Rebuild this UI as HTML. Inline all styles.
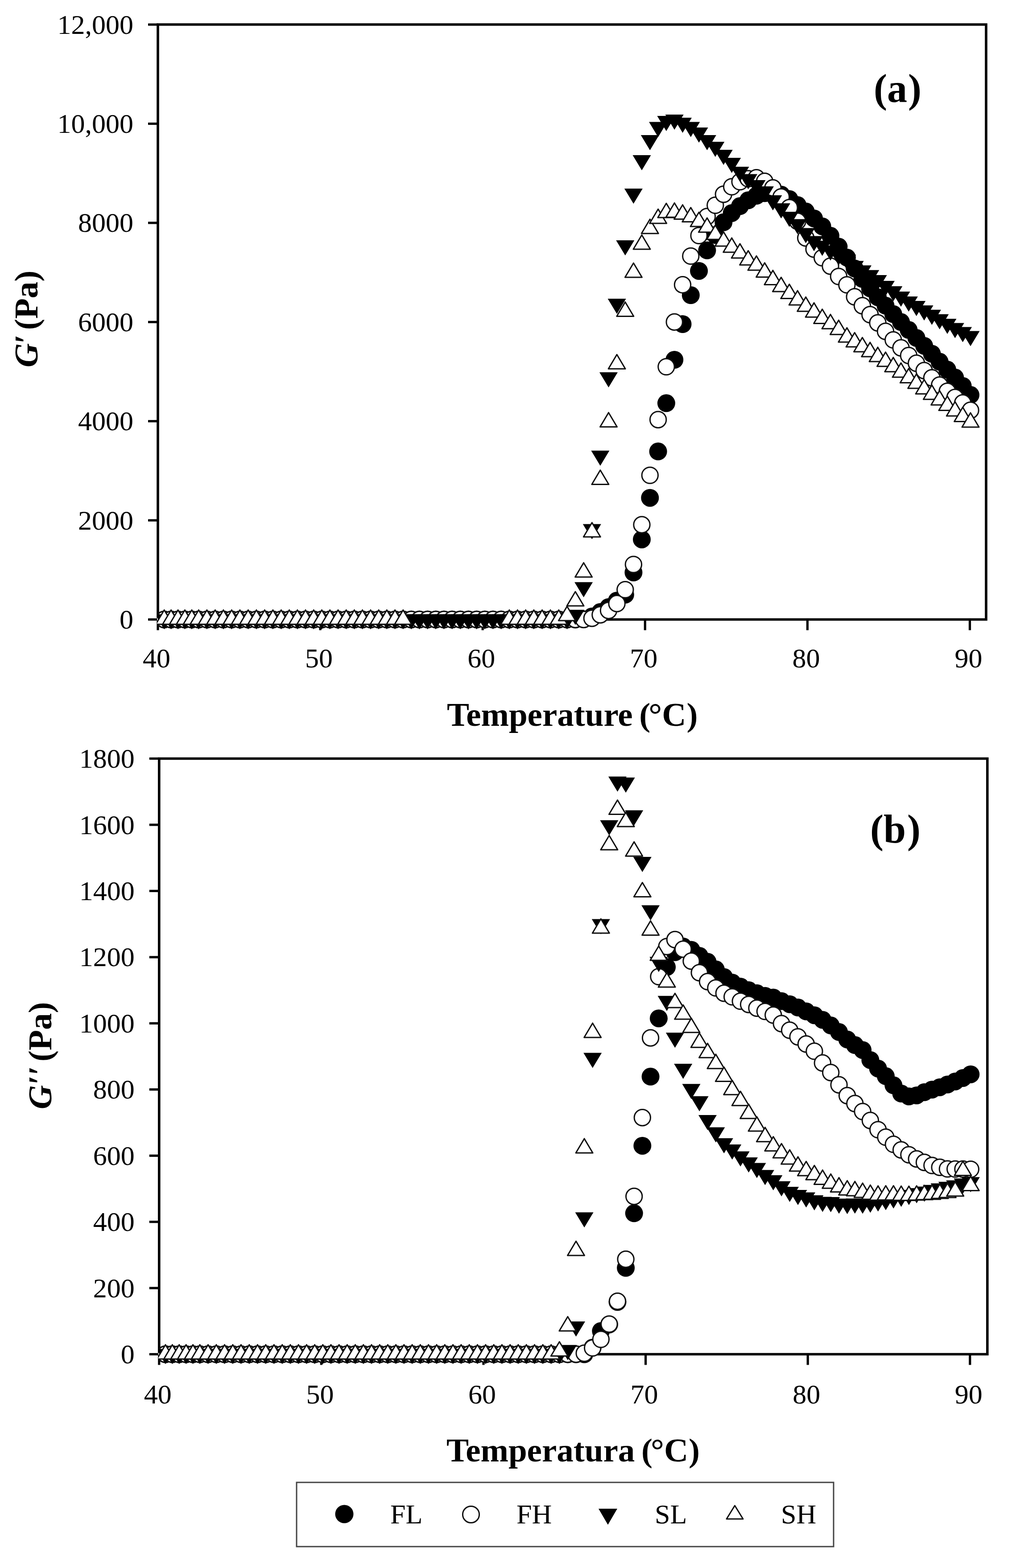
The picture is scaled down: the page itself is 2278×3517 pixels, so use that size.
<!DOCTYPE html>
<html><head><meta charset="utf-8"><title>G' and G'' vs temperature</title>
<style>html,body{margin:0;padding:0;background:#fff;width:2278px;height:3517px;overflow:hidden}svg{display:block}</style>
</head><body>
<svg width="2278" height="3517" viewBox="0 0 2278 3517">
<style>
text{font-family:"Liberation Serif","Times New Roman",serif;fill:#000}
.tl{font-size:62px}
.ax{fill:none;stroke:#000;stroke-width:5.6;stroke-linecap:square}
.tk{fill:none;stroke:#000;stroke-width:5.2}
.o{fill:#fff;stroke:#111;stroke-width:3}
.SH path{stroke-linejoin:round}
.ttl{font-size:75px;font-weight:bold}
.pl{font-size:90px;font-weight:bold}
.lg{font-size:62px}
</style>
<defs><clipPath id="ca"><rect x="352" y="0" width="1900" height="1700"/></clipPath><clipPath id="cb"><rect x="355" y="1650" width="1900" height="1600"/></clipPath></defs>
<rect width="100%" height="100%" fill="#fff"/>
<path d="M354 55H2211V1389.5H354Z" class="ax"/>
<path d="M332 1389.5H354" class="tk"/>
<text x="299.0" y="1410.0" class="tl" text-anchor="end">0</text>
<path d="M332 1167.1H354" class="tk"/>
<text x="299.0" y="1187.6" class="tl" text-anchor="end">2000</text>
<path d="M332 944.7H354" class="tk"/>
<text x="299.0" y="965.2" class="tl" text-anchor="end">4000</text>
<path d="M332 722.3H354" class="tk"/>
<text x="299.0" y="742.8" class="tl" text-anchor="end">6000</text>
<path d="M332 499.9H354" class="tk"/>
<text x="299.0" y="520.4" class="tl" text-anchor="end">8000</text>
<path d="M332 277.5H354" class="tk"/>
<text x="299.0" y="298.0" class="tl" text-anchor="end">10,000</text>
<path d="M332 55.1H354" class="tk"/>
<text x="299.0" y="75.6" class="tl" text-anchor="end">12,000</text>
<path d="M354.0 1389.5V1413.5" class="tk"/>
<text x="351.0" y="1497" class="tl" text-anchor="middle">40</text>
<path d="M718.1 1389.5V1413.5" class="tk"/>
<text x="715.1" y="1497" class="tl" text-anchor="middle">50</text>
<path d="M1082.2 1389.5V1413.5" class="tk"/>
<text x="1079.2" y="1497" class="tl" text-anchor="middle">60</text>
<path d="M1446.3 1389.5V1413.5" class="tk"/>
<text x="1443.3" y="1497" class="tl" text-anchor="middle">70</text>
<path d="M1810.4 1389.5V1413.5" class="tk"/>
<text x="1807.4" y="1497" class="tl" text-anchor="middle">80</text>
<path d="M2174.5 1389.5V1413.5" class="tk"/>
<text x="2171.5" y="1497" class="tl" text-anchor="middle">90</text>
<g clip-path="url(#ca)">
<g class="FL">
<circle cx="368.2" cy="1389.5" r="20"/>
<circle cx="383.6" cy="1389.5" r="20"/>
<circle cx="399.1" cy="1389.5" r="20"/>
<circle cx="414.5" cy="1389.5" r="20"/>
<circle cx="430.0" cy="1389.5" r="20"/>
<circle cx="445.4" cy="1389.5" r="20"/>
<circle cx="463.9" cy="1389.5" r="20"/>
<circle cx="482.4" cy="1389.5" r="20"/>
<circle cx="500.9" cy="1389.5" r="20"/>
<circle cx="519.4" cy="1389.5" r="20"/>
<circle cx="537.9" cy="1389.5" r="20"/>
<circle cx="556.4" cy="1389.5" r="20"/>
<circle cx="574.9" cy="1389.5" r="20"/>
<circle cx="593.4" cy="1389.5" r="20"/>
<circle cx="611.9" cy="1389.5" r="20"/>
<circle cx="630.4" cy="1389.5" r="20"/>
<circle cx="648.6" cy="1389.5" r="20"/>
<circle cx="666.8" cy="1389.5" r="20"/>
<circle cx="685.0" cy="1389.5" r="20"/>
<circle cx="703.3" cy="1389.5" r="20"/>
<circle cx="721.5" cy="1389.5" r="20"/>
<circle cx="739.7" cy="1389.5" r="20"/>
<circle cx="758.0" cy="1389.5" r="20"/>
<circle cx="776.2" cy="1389.5" r="20"/>
<circle cx="794.4" cy="1389.5" r="20"/>
<circle cx="812.6" cy="1389.5" r="20"/>
<circle cx="830.9" cy="1389.5" r="20"/>
<circle cx="849.1" cy="1389.5" r="20"/>
<circle cx="867.3" cy="1389.5" r="20"/>
<circle cx="885.6" cy="1389.5" r="20"/>
<circle cx="903.8" cy="1389.5" r="20"/>
<circle cx="922.1" cy="1389.5" r="20"/>
<circle cx="940.4" cy="1389.5" r="20"/>
<circle cx="958.7" cy="1389.5" r="20"/>
<circle cx="977.1" cy="1389.5" r="20"/>
<circle cx="995.4" cy="1389.5" r="20"/>
<circle cx="1013.7" cy="1389.5" r="20"/>
<circle cx="1032.0" cy="1389.5" r="20"/>
<circle cx="1050.3" cy="1389.5" r="20"/>
<circle cx="1068.7" cy="1389.5" r="20"/>
<circle cx="1087.0" cy="1389.5" r="20"/>
<circle cx="1105.3" cy="1389.5" r="20"/>
<circle cx="1123.6" cy="1389.5" r="20"/>
<circle cx="1141.9" cy="1389.5" r="20"/>
<circle cx="1160.3" cy="1389.5" r="20"/>
<circle cx="1178.6" cy="1389.5" r="20"/>
<circle cx="1196.9" cy="1389.5" r="20"/>
<circle cx="1215.5" cy="1389.5" r="20"/>
<circle cx="1234.1" cy="1389.5" r="20"/>
<circle cx="1252.8" cy="1389.5" r="20"/>
<circle cx="1271.4" cy="1389.5" r="20"/>
<circle cx="1290.0" cy="1389.5" r="20"/>
<circle cx="1308.6" cy="1388.9" r="20"/>
<circle cx="1327.3" cy="1382.8" r="20"/>
<circle cx="1345.9" cy="1372.8" r="20"/>
<circle cx="1364.5" cy="1361.7" r="20"/>
<circle cx="1383.1" cy="1347.2" r="20"/>
<circle cx="1401.8" cy="1333.8" r="20"/>
<circle cx="1420.4" cy="1284.0" r="20"/>
<circle cx="1439.0" cy="1209.9" r="20"/>
<circle cx="1457.3" cy="1116.7" r="20"/>
<circle cx="1475.6" cy="1012.6" r="20"/>
<circle cx="1493.9" cy="904.3" r="20"/>
<circle cx="1512.2" cy="807.0" r="20"/>
<circle cx="1530.5" cy="727.0" r="20"/>
<circle cx="1548.8" cy="662.0" r="20"/>
<circle cx="1567.1" cy="607.7" r="20"/>
<circle cx="1585.4" cy="561.6" r="20"/>
<circle cx="1603.8" cy="527.0" r="20"/>
<circle cx="1622.3" cy="498.6" r="20"/>
<circle cx="1640.7" cy="477.9" r="20"/>
<circle cx="1659.1" cy="462.3" r="20"/>
<circle cx="1677.6" cy="449.3" r="20"/>
<circle cx="1696.0" cy="439.0" r="20"/>
<circle cx="1714.5" cy="433.2" r="20"/>
<circle cx="1732.9" cy="432.1" r="20"/>
<circle cx="1751.4" cy="436.5" r="20"/>
<circle cx="1769.8" cy="446.5" r="20"/>
<circle cx="1788.2" cy="459.9" r="20"/>
<circle cx="1806.7" cy="474.3" r="20"/>
<circle cx="1825.1" cy="489.9" r="20"/>
<circle cx="1843.6" cy="507.7" r="20"/>
<circle cx="1862.0" cy="528.8" r="20"/>
<circle cx="1880.4" cy="553.3" r="20"/>
<circle cx="1898.9" cy="577.7" r="20"/>
<circle cx="1916.2" cy="602.2" r="20"/>
<circle cx="1933.5" cy="625.6" r="20"/>
<circle cx="1950.8" cy="646.7" r="20"/>
<circle cx="1968.1" cy="666.7" r="20"/>
<circle cx="1985.5" cy="685.6" r="20"/>
<circle cx="2002.8" cy="704.5" r="20"/>
<circle cx="2020.1" cy="722.3" r="20"/>
<circle cx="2037.4" cy="740.1" r="20"/>
<circle cx="2054.7" cy="757.9" r="20"/>
<circle cx="2072.1" cy="775.7" r="20"/>
<circle cx="2089.4" cy="793.5" r="20"/>
<circle cx="2106.7" cy="811.3" r="20"/>
<circle cx="2124.0" cy="829.1" r="20"/>
<circle cx="2141.3" cy="846.8" r="20"/>
<circle cx="2158.6" cy="865.7" r="20"/>
<circle cx="2176.0" cy="885.8" r="20"/>
</g>
<g class="FH">
<circle cx="368.2" cy="1389.5" r="18.2" class="o"/>
<circle cx="383.6" cy="1389.5" r="18.2" class="o"/>
<circle cx="399.1" cy="1389.5" r="18.2" class="o"/>
<circle cx="414.5" cy="1389.5" r="18.2" class="o"/>
<circle cx="430.0" cy="1389.5" r="18.2" class="o"/>
<circle cx="445.4" cy="1389.5" r="18.2" class="o"/>
<circle cx="463.9" cy="1389.5" r="18.2" class="o"/>
<circle cx="482.4" cy="1389.5" r="18.2" class="o"/>
<circle cx="500.9" cy="1389.5" r="18.2" class="o"/>
<circle cx="519.4" cy="1389.5" r="18.2" class="o"/>
<circle cx="537.9" cy="1389.5" r="18.2" class="o"/>
<circle cx="556.4" cy="1389.5" r="18.2" class="o"/>
<circle cx="574.9" cy="1389.5" r="18.2" class="o"/>
<circle cx="593.4" cy="1389.5" r="18.2" class="o"/>
<circle cx="611.9" cy="1389.5" r="18.2" class="o"/>
<circle cx="630.4" cy="1389.5" r="18.2" class="o"/>
<circle cx="648.6" cy="1389.5" r="18.2" class="o"/>
<circle cx="666.8" cy="1389.5" r="18.2" class="o"/>
<circle cx="685.0" cy="1389.5" r="18.2" class="o"/>
<circle cx="703.3" cy="1389.5" r="18.2" class="o"/>
<circle cx="721.5" cy="1389.5" r="18.2" class="o"/>
<circle cx="739.7" cy="1389.5" r="18.2" class="o"/>
<circle cx="758.0" cy="1389.5" r="18.2" class="o"/>
<circle cx="776.2" cy="1389.5" r="18.2" class="o"/>
<circle cx="794.4" cy="1389.5" r="18.2" class="o"/>
<circle cx="812.6" cy="1389.5" r="18.2" class="o"/>
<circle cx="830.9" cy="1389.5" r="18.2" class="o"/>
<circle cx="849.1" cy="1389.5" r="18.2" class="o"/>
<circle cx="867.3" cy="1389.5" r="18.2" class="o"/>
<circle cx="885.6" cy="1389.5" r="18.2" class="o"/>
<circle cx="903.8" cy="1389.5" r="18.2" class="o"/>
<circle cx="922.1" cy="1389.5" r="18.2" class="o"/>
<circle cx="940.4" cy="1389.5" r="18.2" class="o"/>
<circle cx="958.7" cy="1389.5" r="18.2" class="o"/>
<circle cx="977.1" cy="1389.5" r="18.2" class="o"/>
<circle cx="995.4" cy="1389.5" r="18.2" class="o"/>
<circle cx="1013.7" cy="1389.5" r="18.2" class="o"/>
<circle cx="1032.0" cy="1389.5" r="18.2" class="o"/>
<circle cx="1050.3" cy="1389.5" r="18.2" class="o"/>
<circle cx="1068.7" cy="1389.5" r="18.2" class="o"/>
<circle cx="1087.0" cy="1389.5" r="18.2" class="o"/>
<circle cx="1105.3" cy="1389.5" r="18.2" class="o"/>
<circle cx="1123.6" cy="1389.5" r="18.2" class="o"/>
<circle cx="1141.9" cy="1389.5" r="18.2" class="o"/>
<circle cx="1160.3" cy="1389.5" r="18.2" class="o"/>
<circle cx="1178.6" cy="1389.5" r="18.2" class="o"/>
<circle cx="1196.9" cy="1389.5" r="18.2" class="o"/>
<circle cx="1215.5" cy="1389.5" r="18.2" class="o"/>
<circle cx="1234.1" cy="1389.5" r="18.2" class="o"/>
<circle cx="1252.8" cy="1389.5" r="18.2" class="o"/>
<circle cx="1271.4" cy="1389.5" r="18.2" class="o"/>
<circle cx="1290.0" cy="1389.5" r="18.2" class="o"/>
<circle cx="1308.6" cy="1389.5" r="18.2" class="o"/>
<circle cx="1327.3" cy="1386.8" r="18.2" class="o"/>
<circle cx="1345.9" cy="1379.0" r="18.2" class="o"/>
<circle cx="1364.5" cy="1369.3" r="18.2" class="o"/>
<circle cx="1383.1" cy="1353.7" r="18.2" class="o"/>
<circle cx="1401.8" cy="1322.6" r="18.2" class="o"/>
<circle cx="1420.4" cy="1266.1" r="18.2" class="o"/>
<circle cx="1439.0" cy="1177.0" r="18.2" class="o"/>
<circle cx="1457.3" cy="1066.1" r="18.2" class="o"/>
<circle cx="1475.6" cy="941.3" r="18.2" class="o"/>
<circle cx="1493.9" cy="822.6" r="18.2" class="o"/>
<circle cx="1512.2" cy="722.3" r="18.2" class="o"/>
<circle cx="1530.5" cy="638.7" r="18.2" class="o"/>
<circle cx="1548.8" cy="574.4" r="18.2" class="o"/>
<circle cx="1567.1" cy="528.4" r="18.2" class="o"/>
<circle cx="1585.4" cy="485.6" r="18.2" class="o"/>
<circle cx="1603.8" cy="460.4" r="18.2" class="o"/>
<circle cx="1622.3" cy="435.8" r="18.2" class="o"/>
<circle cx="1640.7" cy="418.9" r="18.2" class="o"/>
<circle cx="1659.1" cy="407.6" r="18.2" class="o"/>
<circle cx="1677.6" cy="400.9" r="18.2" class="o"/>
<circle cx="1696.0" cy="398.7" r="18.2" class="o"/>
<circle cx="1714.5" cy="406.8" r="18.2" class="o"/>
<circle cx="1732.9" cy="421.5" r="18.2" class="o"/>
<circle cx="1751.4" cy="441.8" r="18.2" class="o"/>
<circle cx="1769.8" cy="465.7" r="18.2" class="o"/>
<circle cx="1788.2" cy="496.3" r="18.2" class="o"/>
<circle cx="1806.7" cy="533.8" r="18.2" class="o"/>
<circle cx="1825.1" cy="558.7" r="18.2" class="o"/>
<circle cx="1843.6" cy="578.1" r="18.2" class="o"/>
<circle cx="1862.0" cy="597.0" r="18.2" class="o"/>
<circle cx="1880.4" cy="620.1" r="18.2" class="o"/>
<circle cx="1898.9" cy="638.9" r="18.2" class="o"/>
<circle cx="1916.2" cy="665.7" r="18.2" class="o"/>
<circle cx="1933.5" cy="685.8" r="18.2" class="o"/>
<circle cx="1950.8" cy="705.8" r="18.2" class="o"/>
<circle cx="1968.1" cy="724.2" r="18.2" class="o"/>
<circle cx="1985.5" cy="743.3" r="18.2" class="o"/>
<circle cx="2002.8" cy="762.4" r="18.2" class="o"/>
<circle cx="2020.1" cy="780.2" r="18.2" class="o"/>
<circle cx="2037.4" cy="797.4" r="18.2" class="o"/>
<circle cx="2054.7" cy="814.7" r="18.2" class="o"/>
<circle cx="2072.1" cy="831.2" r="18.2" class="o"/>
<circle cx="2089.4" cy="847.5" r="18.2" class="o"/>
<circle cx="2106.7" cy="863.8" r="18.2" class="o"/>
<circle cx="2124.0" cy="877.8" r="18.2" class="o"/>
<circle cx="2141.3" cy="891.5" r="18.2" class="o"/>
<circle cx="2158.6" cy="903.7" r="18.2" class="o"/>
<circle cx="2176.0" cy="920.2" r="18.2" class="o"/>
</g>
<g class="SL">
<path d="M347.7 1377.8H388.7L368.2 1411.8Z"/>
<path d="M363.1 1377.8H404.1L383.6 1411.8Z"/>
<path d="M378.6 1377.8H419.6L399.1 1411.8Z"/>
<path d="M394.0 1377.8H435.0L414.5 1411.8Z"/>
<path d="M409.5 1377.8H450.5L430.0 1411.8Z"/>
<path d="M424.9 1377.8H465.9L445.4 1411.8Z"/>
<path d="M443.4 1377.8H484.4L463.9 1411.8Z"/>
<path d="M461.9 1377.8H502.9L482.4 1411.8Z"/>
<path d="M480.4 1377.8H521.4L500.9 1411.8Z"/>
<path d="M498.9 1377.8H539.9L519.4 1411.8Z"/>
<path d="M517.4 1377.8H558.4L537.9 1411.8Z"/>
<path d="M535.9 1377.8H576.9L556.4 1411.8Z"/>
<path d="M554.4 1377.8H595.4L574.9 1411.8Z"/>
<path d="M572.9 1377.8H613.9L593.4 1411.8Z"/>
<path d="M591.4 1377.8H632.4L611.9 1411.8Z"/>
<path d="M609.9 1377.8H650.9L630.4 1411.8Z"/>
<path d="M628.1 1377.8H669.1L648.6 1411.8Z"/>
<path d="M646.3 1377.8H687.3L666.8 1411.8Z"/>
<path d="M664.5 1377.8H705.5L685.0 1411.8Z"/>
<path d="M682.8 1377.8H723.8L703.3 1411.8Z"/>
<path d="M701.0 1377.8H742.0L721.5 1411.8Z"/>
<path d="M719.2 1377.8H760.2L739.7 1411.8Z"/>
<path d="M737.5 1377.8H778.5L758.0 1411.8Z"/>
<path d="M755.7 1377.8H796.7L776.2 1411.8Z"/>
<path d="M773.9 1377.8H814.9L794.4 1411.8Z"/>
<path d="M792.1 1377.8H833.1L812.6 1411.8Z"/>
<path d="M810.4 1377.8H851.4L830.9 1411.8Z"/>
<path d="M828.6 1377.8H869.6L849.1 1411.8Z"/>
<path d="M846.8 1377.8H887.8L867.3 1411.8Z"/>
<path d="M865.1 1377.8H906.1L885.6 1411.8Z"/>
<path d="M883.3 1377.8H924.3L903.8 1411.8Z"/>
<path d="M901.6 1377.8H942.6L922.1 1411.8Z"/>
<path d="M919.9 1377.8H960.9L940.4 1411.8Z"/>
<path d="M938.2 1377.8H979.2L958.7 1411.8Z"/>
<path d="M956.6 1377.8H997.6L977.1 1411.8Z"/>
<path d="M974.9 1377.8H1015.9L995.4 1411.8Z"/>
<path d="M993.2 1377.8H1034.2L1013.7 1411.8Z"/>
<path d="M1011.5 1377.8H1052.5L1032.0 1411.8Z"/>
<path d="M1029.8 1377.8H1070.8L1050.3 1411.8Z"/>
<path d="M1048.2 1377.8H1089.2L1068.7 1411.8Z"/>
<path d="M1066.5 1377.8H1107.5L1087.0 1411.8Z"/>
<path d="M1084.8 1377.8H1125.8L1105.3 1411.8Z"/>
<path d="M1103.1 1377.8H1144.1L1123.6 1411.8Z"/>
<path d="M1121.4 1377.8H1162.4L1141.9 1411.8Z"/>
<path d="M1139.8 1377.8H1180.8L1160.3 1411.8Z"/>
<path d="M1158.1 1377.8H1199.1L1178.6 1411.8Z"/>
<path d="M1176.4 1377.8H1217.4L1196.9 1411.8Z"/>
<path d="M1195.0 1377.8H1236.0L1215.5 1411.8Z"/>
<path d="M1213.6 1377.8H1254.6L1234.1 1411.8Z"/>
<path d="M1232.3 1377.8H1273.3L1252.8 1411.8Z"/>
<path d="M1250.9 1377.8H1291.9L1271.4 1411.8Z"/>
<path d="M1269.5 1367.8H1310.5L1290.0 1401.8Z"/>
<path d="M1288.1 1305.8H1329.1L1308.6 1339.8Z"/>
<path d="M1306.8 1175.6H1347.8L1327.3 1209.6Z"/>
<path d="M1325.4 1010.7H1366.4L1345.9 1044.7Z"/>
<path d="M1344.0 835.1H1385.0L1364.5 869.1Z"/>
<path d="M1362.6 670.0H1403.6L1383.1 704.0Z"/>
<path d="M1381.3 539.1H1422.3L1401.8 573.1Z"/>
<path d="M1399.9 423.0H1440.9L1420.4 457.0Z"/>
<path d="M1418.5 348.0H1459.5L1439.0 382.0Z"/>
<path d="M1436.8 303.0H1477.8L1457.3 337.0Z"/>
<path d="M1455.1 273.5H1496.1L1475.6 307.5Z"/>
<path d="M1473.4 260.1H1514.4L1493.9 294.1Z"/>
<path d="M1491.7 257.1H1532.7L1512.2 291.1Z"/>
<path d="M1510.0 263.9H1551.0L1530.5 297.9Z"/>
<path d="M1528.3 273.5H1569.3L1548.8 307.5Z"/>
<path d="M1546.6 286.0H1587.6L1567.1 320.0Z"/>
<path d="M1564.9 303.0H1605.9L1585.4 337.0Z"/>
<path d="M1583.3 318.0H1624.3L1603.8 352.0Z"/>
<path d="M1601.8 336.0H1642.8L1622.3 370.0Z"/>
<path d="M1620.2 354.0H1661.2L1640.7 388.0Z"/>
<path d="M1638.6 374.0H1679.6L1659.1 408.0Z"/>
<path d="M1657.1 390.5H1698.1L1677.6 424.5Z"/>
<path d="M1675.5 403.9H1716.5L1696.0 437.9Z"/>
<path d="M1694.0 418.1H1735.0L1714.5 452.1Z"/>
<path d="M1712.4 438.1H1753.4L1732.9 472.1Z"/>
<path d="M1730.9 455.9H1771.9L1751.4 489.9Z"/>
<path d="M1749.3 475.1H1790.3L1769.8 509.1Z"/>
<path d="M1767.7 491.5H1808.7L1788.2 525.5Z"/>
<path d="M1786.2 511.6H1827.2L1806.7 545.6Z"/>
<path d="M1804.6 529.4H1845.6L1825.1 563.4Z"/>
<path d="M1823.1 539.9H1864.1L1843.6 573.9Z"/>
<path d="M1841.5 550.4H1882.5L1862.0 584.4Z"/>
<path d="M1859.9 560.9H1900.9L1880.4 594.9Z"/>
<path d="M1878.4 571.3H1919.4L1898.9 605.3Z"/>
<path d="M1895.7 585.2H1936.7L1916.2 619.2Z"/>
<path d="M1913.0 595.3H1954.0L1933.5 629.3Z"/>
<path d="M1930.3 605.7H1971.3L1950.8 639.7Z"/>
<path d="M1947.6 616.9H1988.6L1968.1 650.9Z"/>
<path d="M1965.0 629.9H2006.0L1985.5 663.9Z"/>
<path d="M1982.3 642.0H2023.3L2002.8 676.0Z"/>
<path d="M1999.6 653.9H2040.6L2020.1 687.9Z"/>
<path d="M2016.9 664.9H2057.9L2037.4 698.9Z"/>
<path d="M2034.2 674.9H2075.2L2054.7 708.9Z"/>
<path d="M2051.6 684.9H2092.6L2072.1 718.9Z"/>
<path d="M2068.9 694.8H2109.9L2089.4 728.8Z"/>
<path d="M2086.2 704.8H2127.2L2106.7 738.8Z"/>
<path d="M2103.5 714.9H2144.5L2124.0 748.9Z"/>
<path d="M2120.8 724.6H2161.8L2141.3 758.6Z"/>
<path d="M2138.1 733.6H2179.1L2158.6 767.6Z"/>
<path d="M2155.5 742.5H2196.5L2176.0 776.5Z"/>
</g>
<g class="SH">
<path d="M349.2 1400.2H387.2L368.2 1368.2Z" class="o"/>
<path d="M364.6 1400.2H402.6L383.6 1368.2Z" class="o"/>
<path d="M380.1 1400.2H418.1L399.1 1368.2Z" class="o"/>
<path d="M395.5 1400.2H433.5L414.5 1368.2Z" class="o"/>
<path d="M411.0 1400.2H449.0L430.0 1368.2Z" class="o"/>
<path d="M426.4 1400.2H464.4L445.4 1368.2Z" class="o"/>
<path d="M444.9 1400.2H482.9L463.9 1368.2Z" class="o"/>
<path d="M463.4 1400.2H501.4L482.4 1368.2Z" class="o"/>
<path d="M481.9 1400.2H519.9L500.9 1368.2Z" class="o"/>
<path d="M500.4 1400.2H538.4L519.4 1368.2Z" class="o"/>
<path d="M518.9 1400.2H556.9L537.9 1368.2Z" class="o"/>
<path d="M537.4 1400.2H575.4L556.4 1368.2Z" class="o"/>
<path d="M555.9 1400.2H593.9L574.9 1368.2Z" class="o"/>
<path d="M574.4 1400.2H612.4L593.4 1368.2Z" class="o"/>
<path d="M592.9 1400.2H630.9L611.9 1368.2Z" class="o"/>
<path d="M611.4 1400.2H649.4L630.4 1368.2Z" class="o"/>
<path d="M629.6 1400.2H667.6L648.6 1368.2Z" class="o"/>
<path d="M647.8 1400.2H685.8L666.8 1368.2Z" class="o"/>
<path d="M666.0 1400.2H704.0L685.0 1368.2Z" class="o"/>
<path d="M684.3 1400.2H722.3L703.3 1368.2Z" class="o"/>
<path d="M702.5 1400.2H740.5L721.5 1368.2Z" class="o"/>
<path d="M720.7 1400.2H758.7L739.7 1368.2Z" class="o"/>
<path d="M739.0 1400.2H777.0L758.0 1368.2Z" class="o"/>
<path d="M757.2 1400.2H795.2L776.2 1368.2Z" class="o"/>
<path d="M775.4 1400.2H813.4L794.4 1368.2Z" class="o"/>
<path d="M793.6 1400.2H831.6L812.6 1368.2Z" class="o"/>
<path d="M811.9 1400.2H849.9L830.9 1368.2Z" class="o"/>
<path d="M830.1 1400.2H868.1L849.1 1368.2Z" class="o"/>
<path d="M848.3 1400.2H886.3L867.3 1368.2Z" class="o"/>
<path d="M866.6 1400.2H904.6L885.6 1368.2Z" class="o"/>
<path d="M884.8 1400.2H922.8L903.8 1368.2Z" class="o"/>
<path d="M1122.9 1400.2H1160.9L1141.9 1368.2Z" class="o"/>
<path d="M1141.3 1400.2H1179.3L1160.3 1368.2Z" class="o"/>
<path d="M1159.6 1400.2H1197.6L1178.6 1368.2Z" class="o"/>
<path d="M1177.9 1400.2H1215.9L1196.9 1368.2Z" class="o"/>
<path d="M1196.5 1400.2H1234.5L1215.5 1368.2Z" class="o"/>
<path d="M1215.1 1400.2H1253.1L1234.1 1368.2Z" class="o"/>
<path d="M1233.8 1400.2H1271.8L1252.8 1368.2Z" class="o"/>
<path d="M1252.4 1392.0H1290.4L1271.4 1360.0Z" class="o"/>
<path d="M1271.0 1359.1H1309.0L1290.0 1327.1Z" class="o"/>
<path d="M1289.6 1294.2H1327.6L1308.6 1262.2Z" class="o"/>
<path d="M1308.3 1204.2H1346.3L1327.3 1172.2Z" class="o"/>
<path d="M1326.9 1086.6H1364.9L1345.9 1054.6Z" class="o"/>
<path d="M1345.5 957.4H1383.5L1364.5 925.4Z" class="o"/>
<path d="M1364.1 827.3H1402.1L1383.1 795.3Z" class="o"/>
<path d="M1382.8 709.4H1420.8L1401.8 677.4Z" class="o"/>
<path d="M1401.4 622.0H1439.4L1420.4 590.0Z" class="o"/>
<path d="M1420.0 559.0H1458.0L1439.0 527.0Z" class="o"/>
<path d="M1438.3 523.7H1476.3L1457.3 491.7Z" class="o"/>
<path d="M1456.6 501.1H1494.6L1475.6 469.1Z" class="o"/>
<path d="M1474.9 488.0H1512.9L1493.9 456.0Z" class="o"/>
<path d="M1493.2 487.2H1531.2L1512.2 455.2Z" class="o"/>
<path d="M1511.5 491.4H1549.5L1530.5 459.4Z" class="o"/>
<path d="M1529.8 497.6H1567.8L1548.8 465.6Z" class="o"/>
<path d="M1548.1 508.1H1586.1L1567.1 476.1Z" class="o"/>
<path d="M1566.4 520.8H1604.4L1585.4 488.8Z" class="o"/>
<path d="M1584.8 537.0H1622.8L1603.8 505.0Z" class="o"/>
<path d="M1603.3 552.0H1641.3L1622.3 520.0Z" class="o"/>
<path d="M1621.7 565.7H1659.7L1640.7 533.7Z" class="o"/>
<path d="M1640.1 578.7H1678.1L1659.1 546.7Z" class="o"/>
<path d="M1658.6 594.3H1696.6L1677.6 562.3Z" class="o"/>
<path d="M1677.0 606.0H1715.0L1696.0 574.0Z" class="o"/>
<path d="M1695.5 621.5H1733.5L1714.5 589.5Z" class="o"/>
<path d="M1713.9 638.4H1751.9L1732.9 606.4Z" class="o"/>
<path d="M1732.4 654.0H1770.4L1751.4 622.0Z" class="o"/>
<path d="M1750.8 669.6H1788.8L1769.8 637.6Z" class="o"/>
<path d="M1769.2 683.9H1807.2L1788.2 651.9Z" class="o"/>
<path d="M1787.7 698.2H1825.7L1806.7 666.2Z" class="o"/>
<path d="M1806.1 711.2H1844.1L1825.1 679.2Z" class="o"/>
<path d="M1824.6 725.5H1862.6L1843.6 693.5Z" class="o"/>
<path d="M1843.0 737.2H1881.0L1862.0 705.2Z" class="o"/>
<path d="M1861.4 750.2H1899.4L1880.4 718.2Z" class="o"/>
<path d="M1879.9 767.2H1917.9L1898.9 735.2Z" class="o"/>
<path d="M1897.2 778.1H1935.2L1916.2 746.1Z" class="o"/>
<path d="M1914.5 789.0H1952.5L1933.5 757.0Z" class="o"/>
<path d="M1931.8 799.9H1969.8L1950.8 767.9Z" class="o"/>
<path d="M1949.1 810.9H1987.1L1968.1 778.9Z" class="o"/>
<path d="M1966.5 821.8H2004.5L1985.5 789.8Z" class="o"/>
<path d="M1983.8 833.7H2021.8L2002.8 801.7Z" class="o"/>
<path d="M2001.1 846.1H2039.1L2020.1 814.1Z" class="o"/>
<path d="M2018.4 858.6H2056.4L2037.4 826.6Z" class="o"/>
<path d="M2035.7 871.0H2073.7L2054.7 839.0Z" class="o"/>
<path d="M2053.1 883.4H2091.1L2072.1 851.4Z" class="o"/>
<path d="M2070.4 895.8H2108.4L2089.4 863.8Z" class="o"/>
<path d="M2087.7 908.2H2125.7L2106.7 876.2Z" class="o"/>
<path d="M2105.0 920.6H2143.0L2124.0 888.6Z" class="o"/>
<path d="M2122.3 933.1H2160.3L2141.3 901.1Z" class="o"/>
<path d="M2139.6 945.5H2177.6L2158.6 913.5Z" class="o"/>
<path d="M2157.0 957.9H2195.0L2176.0 925.9Z" class="o"/>
</g>
</g>
<text x="1959" y="229" class="pl">(a<tspan dx="2">)</tspan></text>
<text x="1002" y="1628" class="ttl">Temperature <tspan dx="-4">(</tspan><tspan dx="-4">°</tspan><tspan dx="0">C</tspan><tspan dx="1">)</tspan></text>
<text transform="translate(84,824) rotate(-90)" class="ttl"><tspan font-style="italic">G<tspan dx="-2">′</tspan></tspan><tspan dx="-8"> (Pa)</tspan></text>
<path d="M356.8 1701.5H2213.8V3037.5H356.8Z" class="ax"/>
<path d="M334.8 3037.5H356.8" class="tk"/>
<text x="301.8" y="3058.0" class="tl" text-anchor="end">0</text>
<path d="M334.8 2889.1H356.8" class="tk"/>
<text x="301.8" y="2909.6" class="tl" text-anchor="end">200</text>
<path d="M334.8 2740.6H356.8" class="tk"/>
<text x="301.8" y="2761.1" class="tl" text-anchor="end">400</text>
<path d="M334.8 2592.2H356.8" class="tk"/>
<text x="301.8" y="2612.7" class="tl" text-anchor="end">600</text>
<path d="M334.8 2443.7H356.8" class="tk"/>
<text x="301.8" y="2464.2" class="tl" text-anchor="end">800</text>
<path d="M334.8 2295.3H356.8" class="tk"/>
<text x="301.8" y="2315.8" class="tl" text-anchor="end">1000</text>
<path d="M334.8 2146.9H356.8" class="tk"/>
<text x="301.8" y="2167.4" class="tl" text-anchor="end">1200</text>
<path d="M334.8 1998.4H356.8" class="tk"/>
<text x="301.8" y="2018.9" class="tl" text-anchor="end">1400</text>
<path d="M334.8 1850.0H356.8" class="tk"/>
<text x="301.8" y="1870.5" class="tl" text-anchor="end">1600</text>
<path d="M334.8 1701.5H356.8" class="tk"/>
<text x="301.8" y="1722.0" class="tl" text-anchor="end">1800</text>
<path d="M356.8 3037.5V3061.5" class="tk"/>
<text x="353.8" y="3148" class="tl" text-anchor="middle">40</text>
<path d="M720.4 3037.5V3061.5" class="tk"/>
<text x="717.4" y="3148" class="tl" text-anchor="middle">50</text>
<path d="M1084.0 3037.5V3061.5" class="tk"/>
<text x="1081.0" y="3148" class="tl" text-anchor="middle">60</text>
<path d="M1447.6 3037.5V3061.5" class="tk"/>
<text x="1444.6" y="3148" class="tl" text-anchor="middle">70</text>
<path d="M1811.2 3037.5V3061.5" class="tk"/>
<text x="1808.2" y="3148" class="tl" text-anchor="middle">80</text>
<path d="M2174.8 3037.5V3061.5" class="tk"/>
<text x="2171.8" y="3148" class="tl" text-anchor="middle">90</text>
<g clip-path="url(#cb)">
<g class="FL">
<circle cx="371.0" cy="3037.5" r="20"/>
<circle cx="386.4" cy="3037.5" r="20"/>
<circle cx="401.8" cy="3037.5" r="20"/>
<circle cx="417.2" cy="3037.5" r="20"/>
<circle cx="432.6" cy="3037.5" r="20"/>
<circle cx="448.1" cy="3037.5" r="20"/>
<circle cx="466.5" cy="3037.5" r="20"/>
<circle cx="485.0" cy="3037.5" r="20"/>
<circle cx="503.5" cy="3037.5" r="20"/>
<circle cx="521.9" cy="3037.5" r="20"/>
<circle cx="540.4" cy="3037.5" r="20"/>
<circle cx="558.9" cy="3037.5" r="20"/>
<circle cx="577.4" cy="3037.5" r="20"/>
<circle cx="595.8" cy="3037.5" r="20"/>
<circle cx="614.3" cy="3037.5" r="20"/>
<circle cx="632.8" cy="3037.5" r="20"/>
<circle cx="651.0" cy="3037.5" r="20"/>
<circle cx="669.2" cy="3037.5" r="20"/>
<circle cx="687.4" cy="3037.5" r="20"/>
<circle cx="705.6" cy="3037.5" r="20"/>
<circle cx="723.8" cy="3037.5" r="20"/>
<circle cx="742.0" cy="3037.5" r="20"/>
<circle cx="760.2" cy="3037.5" r="20"/>
<circle cx="778.4" cy="3037.5" r="20"/>
<circle cx="796.6" cy="3037.5" r="20"/>
<circle cx="814.8" cy="3037.5" r="20"/>
<circle cx="833.0" cy="3037.5" r="20"/>
<circle cx="851.2" cy="3037.5" r="20"/>
<circle cx="869.4" cy="3037.5" r="20"/>
<circle cx="887.6" cy="3037.5" r="20"/>
<circle cx="905.8" cy="3037.5" r="20"/>
<circle cx="924.1" cy="3037.5" r="20"/>
<circle cx="942.4" cy="3037.5" r="20"/>
<circle cx="960.7" cy="3037.5" r="20"/>
<circle cx="979.0" cy="3037.5" r="20"/>
<circle cx="997.3" cy="3037.5" r="20"/>
<circle cx="1015.6" cy="3037.5" r="20"/>
<circle cx="1033.9" cy="3037.5" r="20"/>
<circle cx="1052.2" cy="3037.5" r="20"/>
<circle cx="1070.5" cy="3037.5" r="20"/>
<circle cx="1088.8" cy="3037.5" r="20"/>
<circle cx="1107.1" cy="3037.5" r="20"/>
<circle cx="1125.4" cy="3037.5" r="20"/>
<circle cx="1143.7" cy="3037.5" r="20"/>
<circle cx="1161.9" cy="3037.5" r="20"/>
<circle cx="1180.2" cy="3037.5" r="20"/>
<circle cx="1198.5" cy="3037.5" r="20"/>
<circle cx="1217.1" cy="3037.5" r="20"/>
<circle cx="1235.7" cy="3037.5" r="20"/>
<circle cx="1254.3" cy="3037.5" r="20"/>
<circle cx="1272.9" cy="3037.5" r="20"/>
<circle cx="1291.5" cy="3037.5" r="20"/>
<circle cx="1310.1" cy="3037.5" r="20"/>
<circle cx="1328.7" cy="3022.7" r="20"/>
<circle cx="1347.3" cy="2985.5" r="20"/>
<circle cx="1365.9" cy="2970.7" r="20"/>
<circle cx="1384.5" cy="2920.2" r="20"/>
<circle cx="1403.1" cy="2843.8" r="20"/>
<circle cx="1421.7" cy="2721.3" r="20"/>
<circle cx="1440.3" cy="2569.9" r="20"/>
<circle cx="1458.6" cy="2414.8" r="20"/>
<circle cx="1476.9" cy="2284.2" r="20"/>
<circle cx="1495.1" cy="2169.1" r="20"/>
<circle cx="1513.4" cy="2135.7" r="20"/>
<circle cx="1531.7" cy="2123.1" r="20"/>
<circle cx="1550.0" cy="2130.5" r="20"/>
<circle cx="1568.2" cy="2143.9" r="20"/>
<circle cx="1586.5" cy="2157.3" r="20"/>
<circle cx="1604.9" cy="2174.3" r="20"/>
<circle cx="1623.3" cy="2191.4" r="20"/>
<circle cx="1641.7" cy="2204.0" r="20"/>
<circle cx="1660.2" cy="2212.9" r="20"/>
<circle cx="1678.6" cy="2221.1" r="20"/>
<circle cx="1697.0" cy="2227.8" r="20"/>
<circle cx="1715.4" cy="2233.7" r="20"/>
<circle cx="1733.8" cy="2237.4" r="20"/>
<circle cx="1752.2" cy="2245.6" r="20"/>
<circle cx="1770.6" cy="2252.4" r="20"/>
<circle cx="1789.1" cy="2259.8" r="20"/>
<circle cx="1807.5" cy="2268.5" r="20"/>
<circle cx="1825.9" cy="2277.2" r="20"/>
<circle cx="1844.3" cy="2287.4" r="20"/>
<circle cx="1862.7" cy="2300.1" r="20"/>
<circle cx="1881.1" cy="2314.8" r="20"/>
<circle cx="1899.6" cy="2331.4" r="20"/>
<circle cx="1916.8" cy="2344.1" r="20"/>
<circle cx="1934.1" cy="2355.2" r="20"/>
<circle cx="1951.4" cy="2377.7" r="20"/>
<circle cx="1968.7" cy="2396.7" r="20"/>
<circle cx="1986.0" cy="2413.8" r="20"/>
<circle cx="2003.3" cy="2434.3" r="20"/>
<circle cx="2020.6" cy="2452.8" r="20"/>
<circle cx="2037.9" cy="2459.3" r="20"/>
<circle cx="2055.2" cy="2456.9" r="20"/>
<circle cx="2072.5" cy="2449.8" r="20"/>
<circle cx="2089.8" cy="2443.9" r="20"/>
<circle cx="2107.1" cy="2438.7" r="20"/>
<circle cx="2124.4" cy="2432.5" r="20"/>
<circle cx="2141.7" cy="2425.7" r="20"/>
<circle cx="2159.0" cy="2417.9" r="20"/>
<circle cx="2176.3" cy="2409.7" r="20"/>
</g>
<g class="FH">
<circle cx="371.0" cy="3037.5" r="18.2" class="o"/>
<circle cx="386.4" cy="3037.5" r="18.2" class="o"/>
<circle cx="401.8" cy="3037.5" r="18.2" class="o"/>
<circle cx="417.2" cy="3037.5" r="18.2" class="o"/>
<circle cx="432.6" cy="3037.5" r="18.2" class="o"/>
<circle cx="448.1" cy="3037.5" r="18.2" class="o"/>
<circle cx="466.5" cy="3037.5" r="18.2" class="o"/>
<circle cx="485.0" cy="3037.5" r="18.2" class="o"/>
<circle cx="503.5" cy="3037.5" r="18.2" class="o"/>
<circle cx="521.9" cy="3037.5" r="18.2" class="o"/>
<circle cx="540.4" cy="3037.5" r="18.2" class="o"/>
<circle cx="558.9" cy="3037.5" r="18.2" class="o"/>
<circle cx="577.4" cy="3037.5" r="18.2" class="o"/>
<circle cx="595.8" cy="3037.5" r="18.2" class="o"/>
<circle cx="614.3" cy="3037.5" r="18.2" class="o"/>
<circle cx="632.8" cy="3037.5" r="18.2" class="o"/>
<circle cx="651.0" cy="3037.5" r="18.2" class="o"/>
<circle cx="669.2" cy="3037.5" r="18.2" class="o"/>
<circle cx="687.4" cy="3037.5" r="18.2" class="o"/>
<circle cx="705.6" cy="3037.5" r="18.2" class="o"/>
<circle cx="723.8" cy="3037.5" r="18.2" class="o"/>
<circle cx="742.0" cy="3037.5" r="18.2" class="o"/>
<circle cx="760.2" cy="3037.5" r="18.2" class="o"/>
<circle cx="778.4" cy="3037.5" r="18.2" class="o"/>
<circle cx="796.6" cy="3037.5" r="18.2" class="o"/>
<circle cx="814.8" cy="3037.5" r="18.2" class="o"/>
<circle cx="833.0" cy="3037.5" r="18.2" class="o"/>
<circle cx="851.2" cy="3037.5" r="18.2" class="o"/>
<circle cx="869.4" cy="3037.5" r="18.2" class="o"/>
<circle cx="887.6" cy="3037.5" r="18.2" class="o"/>
<circle cx="905.8" cy="3037.5" r="18.2" class="o"/>
<circle cx="924.1" cy="3037.5" r="18.2" class="o"/>
<circle cx="942.4" cy="3037.5" r="18.2" class="o"/>
<circle cx="960.7" cy="3037.5" r="18.2" class="o"/>
<circle cx="979.0" cy="3037.5" r="18.2" class="o"/>
<circle cx="997.3" cy="3037.5" r="18.2" class="o"/>
<circle cx="1015.6" cy="3037.5" r="18.2" class="o"/>
<circle cx="1033.9" cy="3037.5" r="18.2" class="o"/>
<circle cx="1052.2" cy="3037.5" r="18.2" class="o"/>
<circle cx="1070.5" cy="3037.5" r="18.2" class="o"/>
<circle cx="1088.8" cy="3037.5" r="18.2" class="o"/>
<circle cx="1107.1" cy="3037.5" r="18.2" class="o"/>
<circle cx="1125.4" cy="3037.5" r="18.2" class="o"/>
<circle cx="1143.7" cy="3037.5" r="18.2" class="o"/>
<circle cx="1161.9" cy="3037.5" r="18.2" class="o"/>
<circle cx="1180.2" cy="3037.5" r="18.2" class="o"/>
<circle cx="1198.5" cy="3037.5" r="18.2" class="o"/>
<circle cx="1217.1" cy="3037.5" r="18.2" class="o"/>
<circle cx="1235.7" cy="3037.5" r="18.2" class="o"/>
<circle cx="1254.3" cy="3037.5" r="18.2" class="o"/>
<circle cx="1272.9" cy="3037.5" r="18.2" class="o"/>
<circle cx="1291.5" cy="3037.5" r="18.2" class="o"/>
<circle cx="1310.1" cy="3035.3" r="18.2" class="o"/>
<circle cx="1328.7" cy="3023.4" r="18.2" class="o"/>
<circle cx="1347.3" cy="3004.1" r="18.2" class="o"/>
<circle cx="1365.9" cy="2970.0" r="18.2" class="o"/>
<circle cx="1384.5" cy="2918.7" r="18.2" class="o"/>
<circle cx="1403.1" cy="2824.5" r="18.2" class="o"/>
<circle cx="1421.7" cy="2683.5" r="18.2" class="o"/>
<circle cx="1440.3" cy="2506.8" r="18.2" class="o"/>
<circle cx="1458.6" cy="2328.0" r="18.2" class="o"/>
<circle cx="1476.9" cy="2190.6" r="18.2" class="o"/>
<circle cx="1495.1" cy="2123.1" r="18.2" class="o"/>
<circle cx="1513.4" cy="2107.5" r="18.2" class="o"/>
<circle cx="1531.7" cy="2129.0" r="18.2" class="o"/>
<circle cx="1550.0" cy="2155.8" r="18.2" class="o"/>
<circle cx="1568.2" cy="2181.7" r="18.2" class="o"/>
<circle cx="1586.5" cy="2201.8" r="18.2" class="o"/>
<circle cx="1604.9" cy="2215.9" r="18.2" class="o"/>
<circle cx="1623.3" cy="2227.8" r="18.2" class="o"/>
<circle cx="1641.7" cy="2235.9" r="18.2" class="o"/>
<circle cx="1660.2" cy="2245.6" r="18.2" class="o"/>
<circle cx="1678.6" cy="2253.0" r="18.2" class="o"/>
<circle cx="1697.0" cy="2261.2" r="18.2" class="o"/>
<circle cx="1715.4" cy="2268.6" r="18.2" class="o"/>
<circle cx="1733.8" cy="2276.7" r="18.2" class="o"/>
<circle cx="1752.2" cy="2296.0" r="18.2" class="o"/>
<circle cx="1770.6" cy="2310.8" r="18.2" class="o"/>
<circle cx="1789.1" cy="2325.6" r="18.2" class="o"/>
<circle cx="1807.5" cy="2341.7" r="18.2" class="o"/>
<circle cx="1825.9" cy="2357.9" r="18.2" class="o"/>
<circle cx="1844.3" cy="2384.3" r="18.2" class="o"/>
<circle cx="1862.7" cy="2405.8" r="18.2" class="o"/>
<circle cx="1881.1" cy="2433.2" r="18.2" class="o"/>
<circle cx="1899.6" cy="2457.5" r="18.2" class="o"/>
<circle cx="1916.8" cy="2475.3" r="18.2" class="o"/>
<circle cx="1934.1" cy="2493.1" r="18.2" class="o"/>
<circle cx="1951.4" cy="2513.2" r="18.2" class="o"/>
<circle cx="1968.7" cy="2533.9" r="18.2" class="o"/>
<circle cx="1986.0" cy="2550.6" r="18.2" class="o"/>
<circle cx="2003.3" cy="2566.6" r="18.2" class="o"/>
<circle cx="2020.6" cy="2579.2" r="18.2" class="o"/>
<circle cx="2037.9" cy="2590.1" r="18.2" class="o"/>
<circle cx="2055.2" cy="2599.5" r="18.2" class="o"/>
<circle cx="2072.5" cy="2607.3" r="18.2" class="o"/>
<circle cx="2089.8" cy="2614.1" r="18.2" class="o"/>
<circle cx="2107.1" cy="2618.2" r="18.2" class="o"/>
<circle cx="2124.4" cy="2621.9" r="18.2" class="o"/>
<circle cx="2141.7" cy="2622.1" r="18.2" class="o"/>
<circle cx="2159.0" cy="2622.3" r="18.2" class="o"/>
<circle cx="2176.3" cy="2622.6" r="18.2" class="o"/>
</g>
<g class="SL">
<path d="M350.5 3025.8H391.5L371.0 3059.8Z"/>
<path d="M365.9 3025.8H406.9L386.4 3059.8Z"/>
<path d="M381.3 3025.8H422.3L401.8 3059.8Z"/>
<path d="M396.7 3025.8H437.7L417.2 3059.8Z"/>
<path d="M412.1 3025.8H453.1L432.6 3059.8Z"/>
<path d="M427.6 3025.8H468.6L448.1 3059.8Z"/>
<path d="M446.0 3025.8H487.0L466.5 3059.8Z"/>
<path d="M464.5 3025.8H505.5L485.0 3059.8Z"/>
<path d="M483.0 3025.8H524.0L503.5 3059.8Z"/>
<path d="M501.4 3025.8H542.4L521.9 3059.8Z"/>
<path d="M519.9 3025.8H560.9L540.4 3059.8Z"/>
<path d="M538.4 3025.8H579.4L558.9 3059.8Z"/>
<path d="M556.9 3025.8H597.9L577.4 3059.8Z"/>
<path d="M575.3 3025.8H616.3L595.8 3059.8Z"/>
<path d="M593.8 3025.8H634.8L614.3 3059.8Z"/>
<path d="M612.3 3025.8H653.3L632.8 3059.8Z"/>
<path d="M630.5 3025.8H671.5L651.0 3059.8Z"/>
<path d="M648.7 3025.8H689.7L669.2 3059.8Z"/>
<path d="M666.9 3025.8H707.9L687.4 3059.8Z"/>
<path d="M685.1 3025.8H726.1L705.6 3059.8Z"/>
<path d="M703.3 3025.8H744.3L723.8 3059.8Z"/>
<path d="M721.5 3025.8H762.5L742.0 3059.8Z"/>
<path d="M739.7 3025.8H780.7L760.2 3059.8Z"/>
<path d="M757.9 3025.8H798.9L778.4 3059.8Z"/>
<path d="M776.1 3025.8H817.1L796.6 3059.8Z"/>
<path d="M794.3 3025.8H835.3L814.8 3059.8Z"/>
<path d="M812.5 3025.8H853.5L833.0 3059.8Z"/>
<path d="M830.7 3025.8H871.7L851.2 3059.8Z"/>
<path d="M848.9 3025.8H889.9L869.4 3059.8Z"/>
<path d="M867.1 3025.8H908.1L887.6 3059.8Z"/>
<path d="M885.3 3025.8H926.3L905.8 3059.8Z"/>
<path d="M903.6 3025.8H944.6L924.1 3059.8Z"/>
<path d="M921.9 3025.8H962.9L942.4 3059.8Z"/>
<path d="M940.2 3025.8H981.2L960.7 3059.8Z"/>
<path d="M958.5 3025.8H999.5L979.0 3059.8Z"/>
<path d="M976.8 3025.8H1017.8L997.3 3059.8Z"/>
<path d="M995.1 3025.8H1036.1L1015.6 3059.8Z"/>
<path d="M1013.4 3025.8H1054.4L1033.9 3059.8Z"/>
<path d="M1031.7 3025.8H1072.7L1052.2 3059.8Z"/>
<path d="M1050.0 3025.8H1091.0L1070.5 3059.8Z"/>
<path d="M1068.3 3025.8H1109.3L1088.8 3059.8Z"/>
<path d="M1086.6 3025.8H1127.6L1107.1 3059.8Z"/>
<path d="M1104.9 3025.8H1145.9L1125.4 3059.8Z"/>
<path d="M1123.2 3025.8H1164.2L1143.7 3059.8Z"/>
<path d="M1141.4 3025.8H1182.4L1161.9 3059.8Z"/>
<path d="M1159.7 3025.8H1200.7L1180.2 3059.8Z"/>
<path d="M1178.0 3025.8H1219.0L1198.5 3059.8Z"/>
<path d="M1196.6 3025.8H1237.6L1217.1 3059.8Z"/>
<path d="M1215.2 3025.8H1256.2L1235.7 3059.8Z"/>
<path d="M1233.8 3025.8H1274.8L1254.3 3059.8Z"/>
<path d="M1252.4 3016.8H1293.4L1272.9 3050.8Z"/>
<path d="M1271.0 2964.1H1312.0L1291.5 2998.1Z"/>
<path d="M1289.6 2719.2H1330.6L1310.1 2753.2Z"/>
<path d="M1308.2 2361.4H1349.2L1328.7 2395.4Z"/>
<path d="M1326.8 2061.6H1367.8L1347.3 2095.6Z"/>
<path d="M1345.4 1839.7H1386.4L1365.9 1873.7Z"/>
<path d="M1364.0 1741.7H1405.0L1384.5 1775.7Z"/>
<path d="M1382.6 1743.9H1423.6L1403.1 1777.9Z"/>
<path d="M1401.2 1817.4H1442.2L1421.7 1851.4Z"/>
<path d="M1419.8 1922.0H1460.8L1440.3 1956.0Z"/>
<path d="M1438.1 2030.4H1479.1L1458.6 2064.4Z"/>
<path d="M1456.4 2146.2H1497.4L1476.9 2180.2Z"/>
<path d="M1474.6 2233.8H1515.6L1495.1 2267.8Z"/>
<path d="M1492.9 2316.2H1533.9L1513.4 2350.2Z"/>
<path d="M1511.2 2385.9H1552.2L1531.7 2419.9Z"/>
<path d="M1529.5 2431.2H1570.5L1550.0 2465.2Z"/>
<path d="M1547.7 2458.7H1588.7L1568.2 2492.7Z"/>
<path d="M1566.0 2501.0H1607.0L1586.5 2535.0Z"/>
<path d="M1584.4 2528.4H1625.4L1604.9 2562.4Z"/>
<path d="M1602.8 2552.9H1643.8L1623.3 2586.9Z"/>
<path d="M1621.2 2567.0H1662.2L1641.7 2601.0Z"/>
<path d="M1639.7 2582.6H1680.7L1660.2 2616.6Z"/>
<path d="M1658.1 2596.0H1699.1L1678.6 2630.0Z"/>
<path d="M1676.5 2608.6H1717.5L1697.0 2642.6Z"/>
<path d="M1694.9 2624.2H1735.9L1715.4 2658.2Z"/>
<path d="M1713.3 2636.0H1754.3L1733.8 2670.0Z"/>
<path d="M1731.7 2649.4H1772.7L1752.2 2683.4Z"/>
<path d="M1750.1 2662.0H1791.1L1770.6 2696.0Z"/>
<path d="M1768.6 2669.1H1809.6L1789.1 2703.1Z"/>
<path d="M1787.0 2674.6H1828.0L1807.5 2708.6Z"/>
<path d="M1805.4 2681.1H1846.4L1825.9 2715.1Z"/>
<path d="M1823.8 2684.6H1864.8L1844.3 2718.6Z"/>
<path d="M1842.2 2685.0H1883.2L1862.7 2719.0Z"/>
<path d="M1860.6 2688.4H1901.6L1881.1 2722.4Z"/>
<path d="M1879.1 2689.3H1920.1L1899.6 2723.3Z"/>
<path d="M1896.3 2688.3H1937.3L1916.8 2722.3Z"/>
<path d="M1913.6 2688.5H1954.6L1934.1 2722.5Z"/>
<path d="M1930.9 2686.3H1971.9L1951.4 2720.3Z"/>
<path d="M1948.2 2683.5H1989.2L1968.7 2717.5Z"/>
<path d="M1965.5 2680.6H2006.5L1986.0 2714.6Z"/>
<path d="M1982.8 2676.7H2023.8L2003.3 2710.7Z"/>
<path d="M2000.1 2673.0H2041.1L2020.6 2707.0Z"/>
<path d="M2017.4 2669.1H2058.4L2037.9 2703.1Z"/>
<path d="M2034.7 2664.9H2075.7L2055.2 2698.9Z"/>
<path d="M2052.0 2661.4H2093.0L2072.5 2695.4Z"/>
<path d="M2069.3 2657.8H2110.3L2089.8 2691.8Z"/>
<path d="M2086.6 2654.3H2127.6L2107.1 2688.3Z"/>
<path d="M2103.9 2650.8H2144.9L2124.4 2684.8Z"/>
<path d="M2121.2 2647.5H2162.2L2141.7 2681.5Z"/>
<path d="M2138.5 2643.3H2179.5L2159.0 2677.3Z"/>
<path d="M2155.8 2640.3H2196.8L2176.3 2674.3Z"/>
</g>
<g class="SH">
<path d="M352.0 3048.2H390.0L371.0 3016.2Z" class="o"/>
<path d="M367.4 3048.2H405.4L386.4 3016.2Z" class="o"/>
<path d="M382.8 3048.2H420.8L401.8 3016.2Z" class="o"/>
<path d="M398.2 3048.2H436.2L417.2 3016.2Z" class="o"/>
<path d="M413.6 3048.2H451.6L432.6 3016.2Z" class="o"/>
<path d="M429.1 3048.2H467.1L448.1 3016.2Z" class="o"/>
<path d="M447.5 3048.2H485.5L466.5 3016.2Z" class="o"/>
<path d="M466.0 3048.2H504.0L485.0 3016.2Z" class="o"/>
<path d="M484.5 3048.2H522.5L503.5 3016.2Z" class="o"/>
<path d="M502.9 3048.2H540.9L521.9 3016.2Z" class="o"/>
<path d="M521.4 3048.2H559.4L540.4 3016.2Z" class="o"/>
<path d="M539.9 3048.2H577.9L558.9 3016.2Z" class="o"/>
<path d="M558.4 3048.2H596.4L577.4 3016.2Z" class="o"/>
<path d="M576.8 3048.2H614.8L595.8 3016.2Z" class="o"/>
<path d="M595.3 3048.2H633.3L614.3 3016.2Z" class="o"/>
<path d="M613.8 3048.2H651.8L632.8 3016.2Z" class="o"/>
<path d="M632.0 3048.2H670.0L651.0 3016.2Z" class="o"/>
<path d="M650.2 3048.2H688.2L669.2 3016.2Z" class="o"/>
<path d="M668.4 3048.2H706.4L687.4 3016.2Z" class="o"/>
<path d="M686.6 3048.2H724.6L705.6 3016.2Z" class="o"/>
<path d="M704.8 3048.2H742.8L723.8 3016.2Z" class="o"/>
<path d="M723.0 3048.2H761.0L742.0 3016.2Z" class="o"/>
<path d="M741.2 3048.2H779.2L760.2 3016.2Z" class="o"/>
<path d="M759.4 3048.2H797.4L778.4 3016.2Z" class="o"/>
<path d="M777.6 3048.2H815.6L796.6 3016.2Z" class="o"/>
<path d="M795.8 3048.2H833.8L814.8 3016.2Z" class="o"/>
<path d="M814.0 3048.2H852.0L833.0 3016.2Z" class="o"/>
<path d="M832.2 3048.2H870.2L851.2 3016.2Z" class="o"/>
<path d="M850.4 3048.2H888.4L869.4 3016.2Z" class="o"/>
<path d="M868.6 3048.2H906.6L887.6 3016.2Z" class="o"/>
<path d="M886.8 3048.2H924.8L905.8 3016.2Z" class="o"/>
<path d="M905.1 3048.2H943.1L924.1 3016.2Z" class="o"/>
<path d="M923.4 3048.2H961.4L942.4 3016.2Z" class="o"/>
<path d="M941.7 3048.2H979.7L960.7 3016.2Z" class="o"/>
<path d="M960.0 3048.2H998.0L979.0 3016.2Z" class="o"/>
<path d="M978.3 3048.2H1016.3L997.3 3016.2Z" class="o"/>
<path d="M996.6 3048.2H1034.6L1015.6 3016.2Z" class="o"/>
<path d="M1014.9 3048.2H1052.9L1033.9 3016.2Z" class="o"/>
<path d="M1033.2 3048.2H1071.2L1052.2 3016.2Z" class="o"/>
<path d="M1051.5 3048.2H1089.5L1070.5 3016.2Z" class="o"/>
<path d="M1069.8 3048.2H1107.8L1088.8 3016.2Z" class="o"/>
<path d="M1088.1 3048.2H1126.1L1107.1 3016.2Z" class="o"/>
<path d="M1106.4 3048.2H1144.4L1125.4 3016.2Z" class="o"/>
<path d="M1124.7 3048.2H1162.7L1143.7 3016.2Z" class="o"/>
<path d="M1142.9 3048.2H1180.9L1161.9 3016.2Z" class="o"/>
<path d="M1161.2 3048.2H1199.2L1180.2 3016.2Z" class="o"/>
<path d="M1179.5 3048.2H1217.5L1198.5 3016.2Z" class="o"/>
<path d="M1198.1 3048.2H1236.1L1217.1 3016.2Z" class="o"/>
<path d="M1216.7 3048.2H1254.7L1235.7 3016.2Z" class="o"/>
<path d="M1235.3 3041.6H1273.3L1254.3 3009.6Z" class="o"/>
<path d="M1253.9 2985.2H1291.9L1272.9 2953.2Z" class="o"/>
<path d="M1272.5 2816.0H1310.5L1291.5 2784.0Z" class="o"/>
<path d="M1291.1 2585.9H1329.1L1310.1 2553.9Z" class="o"/>
<path d="M1309.7 2326.9H1347.7L1328.7 2294.9Z" class="o"/>
<path d="M1328.3 2093.1H1366.3L1347.3 2061.1Z" class="o"/>
<path d="M1346.9 1906.1H1384.9L1365.9 1874.1Z" class="o"/>
<path d="M1365.5 1826.6H1403.5L1384.5 1794.6Z" class="o"/>
<path d="M1384.1 1854.1H1422.1L1403.1 1822.1Z" class="o"/>
<path d="M1402.7 1920.2H1440.7L1421.7 1888.2Z" class="o"/>
<path d="M1421.3 2011.5H1459.3L1440.3 1979.5Z" class="o"/>
<path d="M1439.6 2097.5H1477.6L1458.6 2065.5Z" class="o"/>
<path d="M1457.9 2154.0H1495.9L1476.9 2122.0Z" class="o"/>
<path d="M1476.1 2214.1H1514.1L1495.1 2182.1Z" class="o"/>
<path d="M1494.4 2260.1H1532.4L1513.4 2228.1Z" class="o"/>
<path d="M1512.7 2286.1H1550.7L1531.7 2254.1Z" class="o"/>
<path d="M1531.0 2315.8H1569.0L1550.0 2283.8Z" class="o"/>
<path d="M1549.2 2349.2H1587.2L1568.2 2317.2Z" class="o"/>
<path d="M1567.5 2372.2H1605.5L1586.5 2340.2Z" class="o"/>
<path d="M1585.9 2396.7H1623.9L1604.9 2364.7Z" class="o"/>
<path d="M1604.3 2425.6H1642.3L1623.3 2393.6Z" class="o"/>
<path d="M1622.7 2455.3H1660.7L1641.7 2423.3Z" class="o"/>
<path d="M1641.2 2479.8H1679.2L1660.2 2447.8Z" class="o"/>
<path d="M1659.6 2508.7H1697.6L1678.6 2476.7Z" class="o"/>
<path d="M1678.0 2536.9H1716.0L1697.0 2504.9Z" class="o"/>
<path d="M1696.4 2560.7H1734.4L1715.4 2528.7Z" class="o"/>
<path d="M1714.8 2581.5H1752.8L1733.8 2549.5Z" class="o"/>
<path d="M1733.2 2597.0H1771.2L1752.2 2565.0Z" class="o"/>
<path d="M1751.6 2611.1H1789.6L1770.6 2579.1Z" class="o"/>
<path d="M1770.1 2626.7H1808.1L1789.1 2594.7Z" class="o"/>
<path d="M1788.5 2637.1H1826.5L1807.5 2605.1Z" class="o"/>
<path d="M1806.9 2646.0H1844.9L1825.9 2614.0Z" class="o"/>
<path d="M1825.3 2656.4H1863.3L1844.3 2624.4Z" class="o"/>
<path d="M1843.7 2665.2H1881.7L1862.7 2633.2Z" class="o"/>
<path d="M1862.1 2673.4H1900.1L1881.1 2641.4Z" class="o"/>
<path d="M1880.6 2680.2H1918.6L1899.6 2648.2Z" class="o"/>
<path d="M1897.8 2681.9H1935.8L1916.8 2649.9Z" class="o"/>
<path d="M1915.1 2685.7H1953.1L1934.1 2653.7Z" class="o"/>
<path d="M1932.4 2690.1H1970.4L1951.4 2658.1Z" class="o"/>
<path d="M1949.7 2691.9H1987.7L1968.7 2659.9Z" class="o"/>
<path d="M1967.0 2691.5H2005.0L1986.0 2659.5Z" class="o"/>
<path d="M1984.3 2691.6H2022.3L2003.3 2659.6Z" class="o"/>
<path d="M2001.6 2692.3H2039.6L2020.6 2660.3Z" class="o"/>
<path d="M2018.9 2692.5H2056.9L2037.9 2660.5Z" class="o"/>
<path d="M2036.2 2691.8H2074.2L2055.2 2659.8Z" class="o"/>
<path d="M2053.5 2690.8H2091.5L2072.5 2658.8Z" class="o"/>
<path d="M2070.8 2689.9H2108.8L2089.8 2657.9Z" class="o"/>
<path d="M2088.1 2688.1H2126.1L2107.1 2656.1Z" class="o"/>
<path d="M2105.4 2686.0H2143.4L2124.4 2654.0Z" class="o"/>
<path d="M2122.7 2682.8H2160.7L2141.7 2650.8Z" class="o"/>
<path d="M2140.0 2636.4H2178.0L2159.0 2604.4Z" class="o"/>
<path d="M2157.3 2670.5H2195.3L2176.3 2638.5Z" class="o"/>
</g>
</g>
<text x="1951" y="1890" class="pl">(b<tspan dx="3">)</tspan></text>
<text x="1001" y="3278" class="ttl">Temperatura <tspan dx="-4">(</tspan><tspan dx="-4">°</tspan><tspan dx="0">C</tspan><tspan dx="1">)</tspan></text>
<text transform="translate(115,2488) rotate(-90)" class="ttl"><tspan font-style="italic">G′′</tspan><tspan dx="-8"> (Pa)</tspan></text>
<rect x="665" y="3325" width="1204" height="144" fill="none" stroke="#444" stroke-width="3"/>
<circle cx="772" cy="3396" r="20.5"/>
<text x="875" y="3417" class="lg">FL</text>
<circle cx="1056" cy="3397" r="18.6" class="o"/>
<text x="1158" y="3417" class="lg">FH</text>
<path d="M1342 3384H1384L1363 3420Z"/>
<text x="1468" y="3417" class="lg">SL</text>
<path d="M1629 3407H1666L1647.5 3377Z" class="o" style="stroke-linejoin:round"/>
<text x="1751" y="3417" class="lg">SH</text>
</svg>
</body></html>
